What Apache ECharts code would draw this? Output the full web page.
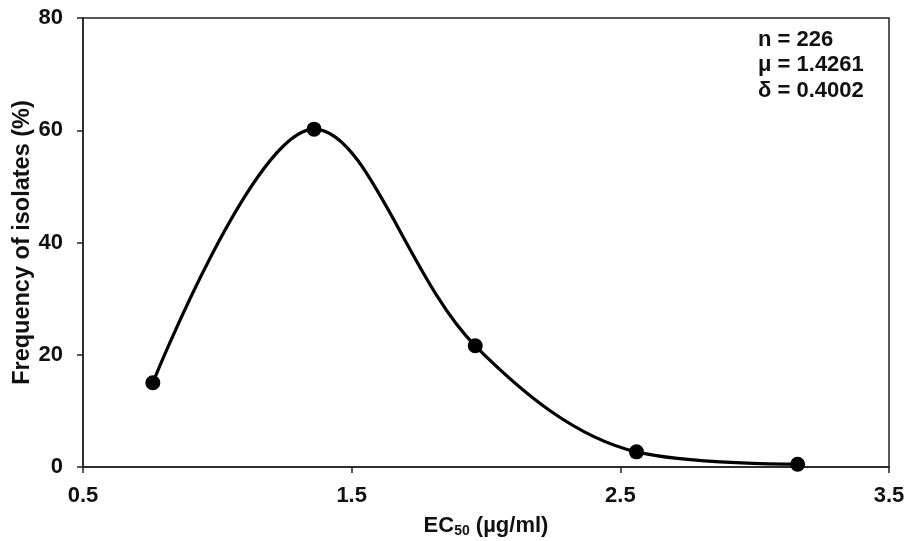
<!DOCTYPE html>
<html><head><meta charset="utf-8">
<script src="https://cdn.jsdelivr.net/npm/echarts@6/dist/echarts.min.js"></script>
<style>html,body{margin:0;padding:0;background:#fff}#c{width:907px;height:541px}</style>
</head><body><div id="c"></div>
<script>
var xValues = [0.76, 1.36, 1.96, 2.56, 3.16];
var freqValues = [15.0, 60.2, 21.6, 2.7, 0.5];
var statLines = ['n = 226', 'μ = 1.4261', 'δ = 0.4002'];

var font = '"Liberation Sans", Arial, sans-serif';
var axisColor = '#222';
var chart = echarts.init(document.getElementById('c'));
chart.setOption({
  animation: false,
  grid: {left: 83, right: 18, top: 18, bottom: 74, containLabel: false, outerBoundsMode: 'none', show: true, borderColor: axisColor, borderWidth: 1.5, backgroundColor: 'transparent'},
  xAxis: {
    type: 'value', min: 0.5, max: 3.5, interval: 1,
    name: '{a|EC}{s|50}{a| (µg/ml)}', nameLocation: 'middle', nameGap: 47,
    nameMoveOverlap: false,
    nameTextStyle: {rich: {
      a: {fontFamily: font, fontWeight: 'bold', fontSize: 22, color: '#111'},
      s: {fontFamily: font, fontWeight: 'bold', fontSize: 14, color: '#111', verticalAlign: 'bottom', padding: [10, 0, 0, 0]}
    }},
    axisLine: {lineStyle: {color: axisColor, width: 1.5}},
    axisTick: {show: true, length: 6, lineStyle: {color: axisColor, width: 1.5}},
    axisLabel: {fontFamily: font, fontWeight: 'bold', fontSize: 22, color: '#111', margin: 18},
    splitLine: {show: false}
  },
  yAxis: {
    type: 'value', min: 0, max: 80, interval: 20,
    name: 'Frequency of isolates (%)', nameLocation: 'middle', nameGap: 48,
    nameMoveOverlap: false,
    nameTextStyle: {fontFamily: font, fontWeight: 'bold', fontSize: 23.5, color: '#111'},
    axisLine: {show: true, lineStyle: {color: axisColor, width: 1.5}},
    axisTick: {show: true, length: 6, lineStyle: {color: axisColor, width: 1.5}},
    axisLabel: {fontFamily: font, fontWeight: 'bold', fontSize: 22, color: '#111', margin: 20},
    splitLine: {show: false}
  },
  series: [{
    type: 'line',
    data: xValues.map(function (x, i) { return [x, freqValues[i]]; }),
    smooth: 0.35,
    symbol: 'circle', symbolSize: 15,
    lineStyle: {color: '#000', width: 3.2},
    itemStyle: {color: '#000'}
  }],
  graphic: [{
    type: 'text', left: 758, top: 27,
    style: {text: statLines.join('\n'), fontFamily: font, fontWeight: 'bold', fontSize: 22, lineHeight: 25.5, fill: '#111'}
  }]
});
</script></body></html>
